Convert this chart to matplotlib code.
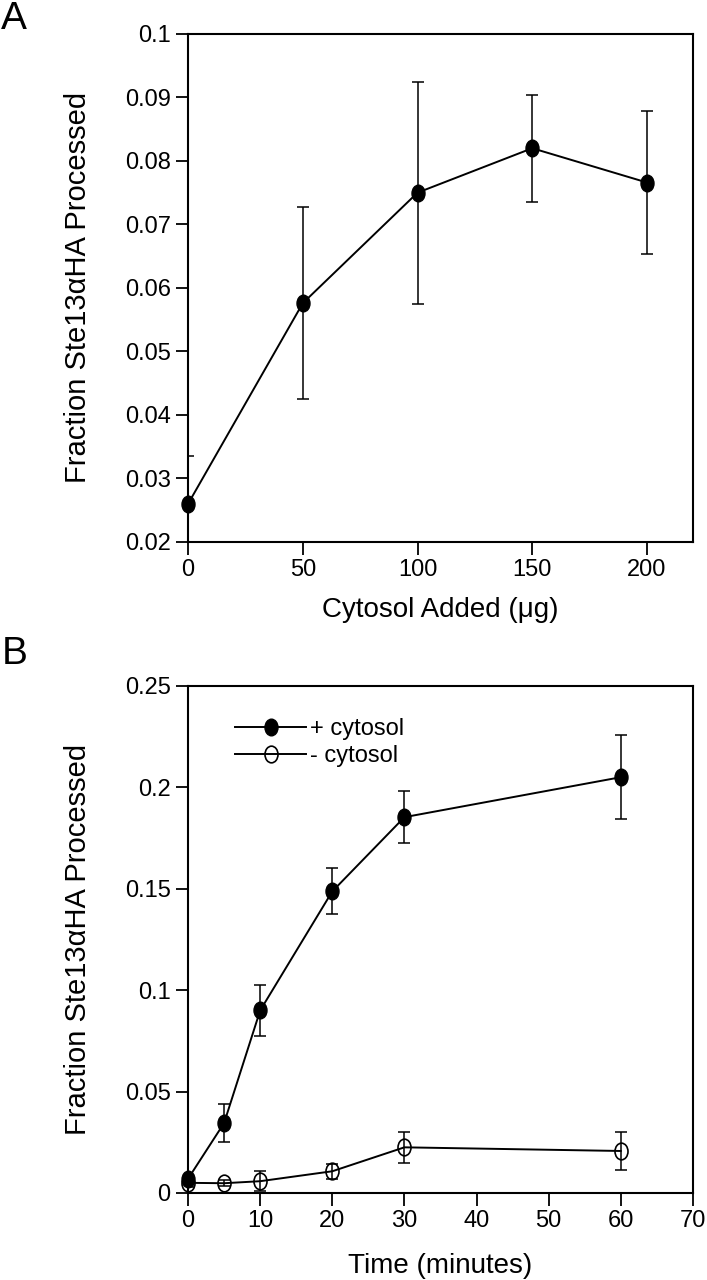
import matplotlib
matplotlib.use('Agg')
import matplotlib.pyplot as plt
import numpy as np
from matplotlib.path import Path
from matplotlib.transforms import Affine2D

# Panel A: fraction processed vs cytosol added
cytosol_ug = [0, 50, 100, 150, 200]
frac_a = [0.026, 0.0576, 0.075, 0.082, 0.0766]
err_a = [0.0075, 0.0151, 0.0175, 0.0084, 0.0112]

# Panel B: time course with / without cytosol
time_min = [0, 5, 10, 20, 30, 60]
plus_cyt = [0.007, 0.0345, 0.090, 0.1487, 0.1853, 0.2050]
plus_err = [0.002, 0.0093, 0.0124, 0.0113, 0.0127, 0.0206]
minus_cyt = [0.005, 0.0048, 0.0058, 0.0107, 0.0225, 0.0207]
minus_err = [0.002, 0.0015, 0.0050, 0.0037, 0.0077, 0.0095]

plt.rcParams['font.family'] = ['Liberation Sans', 'DejaVu Sans']

# the figure is stretched vertically, so the dots are tall ellipses
ellipse = Path.unit_circle().transformed(Affine2D().scale(0.78, 1.0))

fig = plt.figure(figsize=(7.07, 12.8), dpi=100)
ax_a = fig.add_axes([0.266, 0.5766, 0.714, 0.3969])
ax_b = fig.add_axes([0.266, 0.0680, 0.714, 0.3961])


def style_axes(ax):
    for sp in ax.spines.values():
        sp.set_linewidth(1.5)
    ax.tick_params(direction='out', length=9, width=1.3, labelsize=17, pad=3.5)
    ax.yaxis.set_label_coords(-0.19, 0.5)


# ---- panel A ----
ax_a.errorbar(cytosol_ug, frac_a, yerr=err_a, fmt='none', ecolor='black',
              elinewidth=1.1, capsize=4.5, capthick=1.1)
ax_a.plot(cytosol_ug, frac_a, color='black', lw=1.4, marker=ellipse,
          markersize=12, markerfacecolor='black', clip_on=False, zorder=3)
ax_a.set_xlim(0, 220)
ax_a.set_ylim(0.02, 0.1)
ax_a.set_xticks([0, 50, 100, 150, 200])
ax_a.set_yticks([0.02, 0.03, 0.04, 0.05, 0.06, 0.07, 0.08, 0.09, 0.1])
ax_a.set_yticklabels(['0.02', '0.03', '0.04', '0.05', '0.06', '0.07', '0.08', '0.09', '0.1'])
ax_a.set_xlabel('Cytosol Added (μg)', fontsize=20)
ax_a.set_ylabel('Fraction Ste13αHA Processed', fontsize=21)
style_axes(ax_a)
ax_a.xaxis.set_label_coords(0.5, -0.108)

# ---- panel B ----
ax_b.errorbar(time_min, plus_cyt, yerr=plus_err, fmt='none', ecolor='black',
              elinewidth=1.1, capsize=4.5, capthick=1.1)
ax_b.errorbar(time_min, minus_cyt, yerr=minus_err, fmt='none', ecolor='black',
              elinewidth=1.1, capsize=4.5, capthick=1.1)
ax_b.plot(time_min, plus_cyt, color='black', lw=1.4, marker=ellipse,
          markersize=12, markerfacecolor='black', clip_on=False, zorder=3,
          label='+ cytosol')
ax_b.plot(time_min, minus_cyt, color='black', lw=1.4, marker=ellipse,
          markersize=12, markerfacecolor='none', markeredgewidth=1.2,
          clip_on=False, zorder=3, label='- cytosol')
ax_b.set_xlim(0, 70)
ax_b.set_ylim(0, 0.25)
ax_b.set_xticks([0, 10, 20, 30, 40, 50, 60, 70])
ax_b.set_yticks([0, 0.05, 0.1, 0.15, 0.2, 0.25])
ax_b.set_yticklabels(['0', '0.05', '0.1', '0.15', '0.2', '0.25'])
ax_b.set_xlabel('Time (minutes)', fontsize=20)
ax_b.set_ylabel('Fraction Ste13αHA Processed', fontsize=21)
style_axes(ax_b)
ax_b.xaxis.set_label_coords(0.5, -0.118)
ax_b.legend(loc='upper left', bbox_to_anchor=(0.075, 0.955), frameon=False,
            fontsize=17, handlelength=3.0, handletextpad=0.15,
            labelspacing=0.2, borderaxespad=0)

# panel letters
fig.text(0.002, 0.999, 'A', fontsize=28, ha='left', va='top')
fig.text(0.002, 0.503, 'B', fontsize=28, ha='left', va='top')

fig.savefig('out.png', dpi=100)
